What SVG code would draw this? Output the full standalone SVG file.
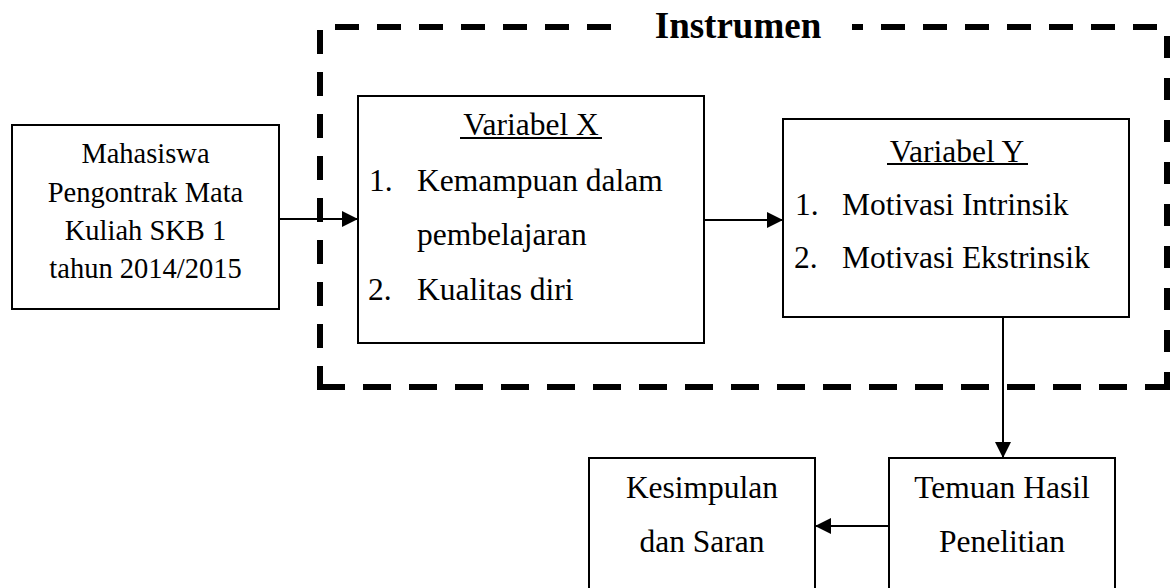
<svg xmlns="http://www.w3.org/2000/svg" width="1176" height="588" viewBox="0 0 1176 588">
  <style>
    .box { fill: #fff; stroke: #000; stroke-width: 2; }
    .t { font-family: "Liberation Serif", "Times New Roman", serif; font-size: 31.5px; fill: #000; }
    .m { text-anchor: middle; }
    .dash { stroke: #000; stroke-width: 6; fill: none; }
    .conn { stroke: #000; stroke-width: 2; fill: none; marker-end: url(#arrow); }
    .ul { stroke: #000; stroke-width: 2; }
  </style>
  <defs>
    <marker id="arrow" markerUnits="userSpaceOnUse" markerWidth="16" markerHeight="16" refX="16" refY="8" orient="auto">
      <path d="M0,0 L16,8 L0,16 Z" fill="#000"/>
    </marker>
  </defs>
  <rect width="1176" height="588" fill="#fff"/>

  <g id="instrumen-frame">
    <line class="dash" x1="335" y1="27" x2="1170" y2="27" stroke-dasharray="24 18"/>
    <line class="dash" x1="320" y1="30" x2="320" y2="390" stroke-dasharray="24 18"/>
    <line class="dash" x1="317" y1="387" x2="1170" y2="387" stroke-dasharray="28 18" stroke-dashoffset="0"/>
    <line class="dash" x1="1167" y1="36" x2="1167" y2="390" stroke-dasharray="22 20"/>
    <rect x="616" y="6" width="236" height="40" fill="#fff"/>
    <text class="t m" x="738" y="38" font-size="37" font-weight="bold" style="font-size:37px">Instrumen</text>
  </g>

  <g id="connectors">
    <line class="conn" x1="279" y1="219" x2="358" y2="219"/>
    <line class="conn" x1="704" y1="220" x2="783" y2="220"/>
    <line class="conn" x1="1003" y1="317" x2="1003" y2="458"/>
    <line class="conn" x1="889" y1="526" x2="815" y2="526"/>
  </g>

  <g id="mahasiswa">
    <rect class="box" x="12" y="125" width="267" height="184"/>
    <text class="t m" x="145.5" y="163" style="font-size:28.5px">Mahasiswa</text>
    <text class="t m" x="145.5" y="202" style="font-size:28.5px">Pengontrak Mata</text>
    <text class="t m" x="145.5" y="240" style="font-size:28.5px">Kuliah SKB 1</text>
    <text class="t m" x="145.5" y="278" style="font-size:28.5px">tahun 2014/2015</text>
  </g>

  <g id="variabel-x">
    <rect class="box" x="358" y="96" width="346" height="247"/>
    <text class="t m" x="531" y="135">Variabel X</text>
    <line class="ul" x1="460" y1="138" x2="602" y2="138"/>
    <text class="t" x="369" y="191">1.</text>
    <text class="t" x="417" y="191">Kemampuan dalam</text>
    <text class="t" x="417" y="245">pembelajaran</text>
    <text class="t" x="368" y="300">2.</text>
    <text class="t" x="417" y="300">Kualitas diri</text>
  </g>

  <g id="variabel-y">
    <rect class="box" x="783" y="119" width="346" height="198"/>
    <text class="t m" x="957" y="162">Variabel Y</text>
    <line class="ul" x1="887" y1="164" x2="1028" y2="164"/>
    <text class="t" x="795" y="215">1.</text>
    <text class="t" x="842" y="215">Motivasi Intrinsik</text>
    <text class="t" x="794" y="268">2.</text>
    <text class="t" x="842" y="268">Motivasi Ekstrinsik</text>
  </g>

  <g id="temuan">
    <rect class="box" x="889" y="458" width="226" height="140"/>
    <text class="t m" x="1002" y="498">Temuan Hasil</text>
    <text class="t m" x="1002" y="552">Penelitian</text>
  </g>

  <g id="kesimpulan">
    <rect class="box" x="589" y="458" width="226" height="140"/>
    <text class="t m" x="702" y="498">Kesimpulan</text>
    <text class="t m" x="702" y="552">dan Saran</text>
  </g>
</svg>
